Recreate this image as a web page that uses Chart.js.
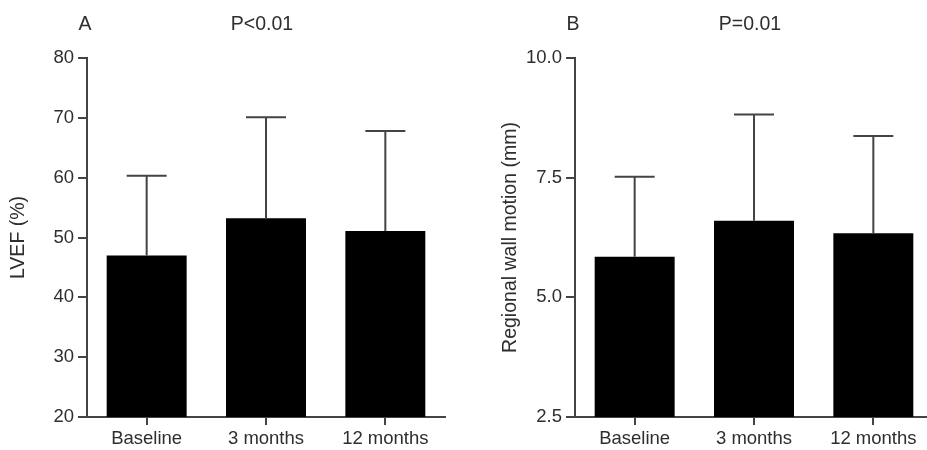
<!DOCTYPE html>
<html>
<head>
<meta charset="utf-8">
<script src="https://cdn.jsdelivr.net/npm/chart.js@4.4.1/dist/chart.umd.min.js"></script>
<style>
  html, body { margin: 0; padding: 0; background: #fff; width: 927px; height: 450px; overflow: hidden; }
  canvas { position: absolute; top: 0; }
  #cA { left: 0; }
  #cB { left: 460px; }
</style>
</head>
<body>
<canvas id="cA" width="460" height="450"></canvas>
<canvas id="cB" width="480" height="450"></canvas>
<script>
// ---- data ----
const categories = ["Baseline", "3 months", "12 months"];

const lvefMean = [47.0, 53.2, 51.1];
const lvefSD   = [13.3, 16.9, 16.7];
const lvefTicks = [20, 30, 40, 50, 60, 70, 80];

const rwmMean = [5.85, 6.60, 6.34];
const rwmSD   = [1.67, 2.22, 2.03];
const rwmTicks = [2.5, 5.0, 7.5, 10.0];

const FONT = "'Liberation Sans', Arial, Helvetica, sans-serif";
const TXT = '#2e2e2e';
const AX = '#444444';

const errorBarPlugin = {
  id: 'errorBars',
  afterDatasetsDraw(chart, args, opts) {
    const ctx = chart.ctx;
    const meta = chart.getDatasetMeta(0);
    const yScale = chart.scales.y;
    const sd = opts.sd || [];
    const means = chart.data.datasets[0].data;
    ctx.save();
    ctx.strokeStyle = AX;
    ctx.lineWidth = 2;
    meta.data.forEach((bar, i) => {
      const x = bar.x;
      const yTop = yScale.getPixelForValue(means[i] + sd[i]);
      const yMean = yScale.getPixelForValue(means[i]);
      const capHalf = bar.width / 4;
      ctx.beginPath();
      ctx.moveTo(x, yMean);
      ctx.lineTo(x, yTop);
      ctx.moveTo(x - capHalf, yTop);
      ctx.lineTo(x + capHalf, yTop);
      ctx.stroke();
    });
    ctx.restore();
  }
};

const headerPlugin = {
  id: 'header',
  afterDraw(chart, args, opts) {
    const ctx = chart.ctx;
    const a = chart.chartArea;
    ctx.save();
    ctx.fillStyle = TXT;
    ctx.font = "19.5px " + FONT;
    ctx.textBaseline = 'middle';
    ctx.textAlign = 'center';
    ctx.fillText(opts.panel, a.left - 2, 25);
    ctx.fillText(opts.pText, (a.left + a.right) / 2 - 4, 25);
    ctx.restore();
  }
};

function makeChart(id, means, sd, ticks, yTitle, panel, pText, padLeft, padRight, yWidth, fmt) {
  const ctx = document.getElementById(id);
  return new Chart(ctx, {
    type: 'bar',
    data: {
      labels: categories,
      datasets: [{
        data: means,
        backgroundColor: '#000000',
        borderWidth: 0,
        categoryPercentage: 1.0,
        barPercentage: 0.67
      }]
    },
    options: {
      responsive: false,
      animation: false,
      devicePixelRatio: 1,
      layout: { padding: { top: 58, right: padRight, bottom: 0, left: padLeft } },
      plugins: {
        legend: { display: false },
        tooltip: { enabled: false },
        errorBars: { sd: sd },
        header: { panel: panel, pText: pText }
      },
      scales: {
        x: {
          grid: { display: true, drawOnChartArea: false, drawTicks: true, tickLength: 8, offset: false, color: AX, lineWidth: 2 },
          border: { display: true, color: AX, width: 2 },
          ticks: { color: TXT, font: { family: FONT, size: 18.5 }, padding: 3, maxRotation: 0 },
          afterFit(s) { s.height = 33; }
        },
        y: {
          min: ticks[0],
          max: ticks[ticks.length - 1],
          afterBuildTicks(s) { s.ticks = ticks.map(v => ({ value: v })); },
          grid: { display: true, drawOnChartArea: false, drawTicks: true, tickLength: 9, color: AX, lineWidth: 2 },
          border: { display: true, color: AX, width: 2 },
          ticks: { color: TXT, font: { family: FONT, size: 18.5 }, padding: 4, callback: fmt },
          title: { display: true, text: yTitle, color: TXT, font: { family: FONT, size: 19.5 }, padding: { top: 7, bottom: 0 } },
          afterFit(s) { s.width = yWidth; }
        }
      }
    },
    plugins: [errorBarPlugin, headerPlugin]
  });
}

makeChart('cA', lvefMean, lvefSD, lvefTicks, 'LVEF (%)', 'A', 'P<0.01', 0, 15, 87, v => String(v));
makeChart('cB', rwmMean, rwmSD, rwmTicks, 'Regional wall motion (mm)', 'B', 'P=0.01', 32, 7, 83, v => Number(v).toFixed(1));
</script>
</body>
</html>
